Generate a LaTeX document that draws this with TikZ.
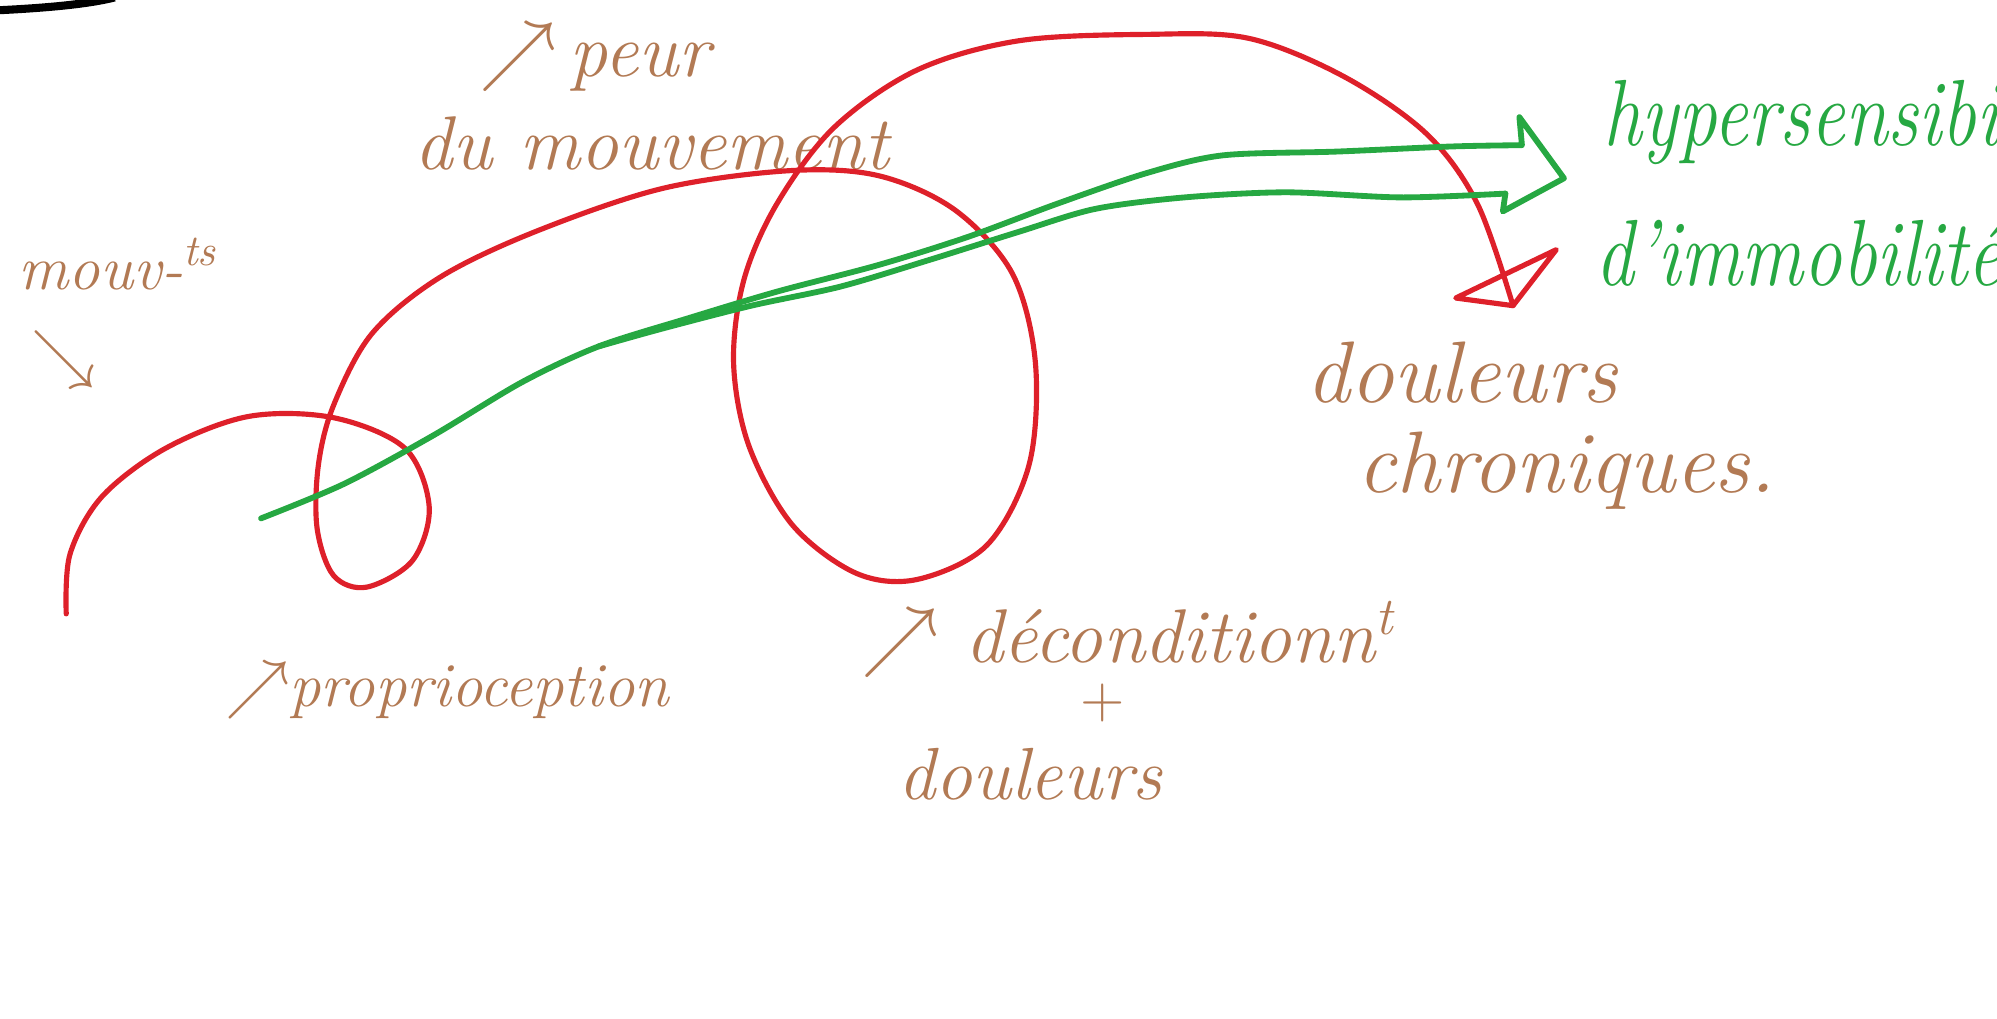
\documentclass[tikz,border=0pt]{standalone}
\usepackage{amsmath,amssymb}
\usepackage{tikz}
\usetikzlibrary{positioning}
\usepackage{xcolor}
\definecolor{brun}{RGB}{178,122,84}
\definecolor{rouge}{RGB}{222,32,42}
\definecolor{vert}{RGB}{38,168,66}

\begin{document}
\begin{tikzpicture}[x=0.01cm, y=-0.01cm,
      note/.style={text=brun, font=\fontsize{17}{19}\selectfont\itshape, inner sep=0pt, anchor=base west},
      bignote/.style={note, font=\fontsize{19.5}{22}\selectfont\itshape},
      smallnote/.style={note, font=\fontsize{14}{16}\selectfont\itshape},
      greennote/.style={note, text=vert, font=\fontsize{21}{24}\selectfont\itshape},
      redline/.style={draw=rouge, line width=1.15pt, line join=round, line cap=round},
      greenline/.style={draw=vert, line width=1.3pt, line join=round, line cap=round},
    ]
    \useasboundingbox (0,0) rectangle (1568,800);

    % Trait noir en haut
    \draw[line width=1.8pt] (0,8) .. controls (40,6) and (70,3) .. (90,-2);

    % Textes
    \node[note] (peur) at (376,60) {$\nearrow$\,peur};
    \node[note] (mvt) at (325,133) {du mouvement};
    \node[smallnote] (mouv) at (14,227) {mouv-\textsuperscript{ts}};
    \node[note, anchor=center, font=\fontsize{15}{17}\selectfont] (mouvarr) at (50,282) {$\searrow$};
    \node[smallnote] (proprio) at (176,555) {$\nearrow$proprioception};
    \node[note] (decond) at (676,520) {$\nearrow$ déconditionn\textsuperscript{t}};
    \node[note, anchor=center, font=\fontsize{13}{15}\selectfont] (plus) at (866,552) {+};
    \node[note, font=\fontsize{16.5}{18}\selectfont\itshape] (doulbas) at (705,628) {douleurs};
    \node[bignote] (doul) at (1025,316) {douleurs};
    \node[bignote] (chro) at (1065,387) {chroniques.};
    \node[greennote] (hyper) at (1258,114) {\scalebox{0.82}[1]{hypersensibilité}};
    \node[greennote] (immo) at (1252,224) {\scalebox{0.82}[1]{d'immobilité}};

    % Courbe rouge
    \coordinate (redstart) at (52,482);
    \coordinate (redtip) at (1188,240);
    \draw[redline] plot[smooth, tension=0.55] coordinates {(redstart) (55,435)
      (80,390) (130,352) (195,327) (262,328) (318,352) (337,398) (324,440)
      (288,461) (262,452) (249,415) (250,365) (262,318) (292,262) (345,218)
      (420,182) (520,148) (620,134) (690,138) (750,165) (795,215) (813,285)
      (808,365) (775,428) (720,455) (672,450) (622,412) (588,350) (576,285)
      (584,220) (610,160) (655,100) (720,55) (800,32) (900,27) (980,30)
      (1055,60) (1120,105) (1160,160) (redtip)};
    \draw[redline] (redtip) -- (1143,234) -- (1222,196) -- cycle;

    % Fleche verte
    \coordinate (greenstart) at (205,407);
    \coordinate (split) at (470,272);
    \draw[greenline] plot[smooth] coordinates {(greenstart) (270,380) (340,342)
      (410,300) (split) (540,250) (610,229) (690,208) (760,186) (830,160)
      (900,136) (960,122) (1050,119) (1140,115) (1195,114)}
      -- (1193,92) -- (1228,140) -- (1180,166) -- (1182,152);
    \draw[greenline] plot[smooth] coordinates {(split) (520,258) (590,240)
      (660,225) (730,204) (800,182) (860,164) (930,155) (1010,151) (1100,155)
      (1182,152)};
  \end{tikzpicture}
\end{document}
